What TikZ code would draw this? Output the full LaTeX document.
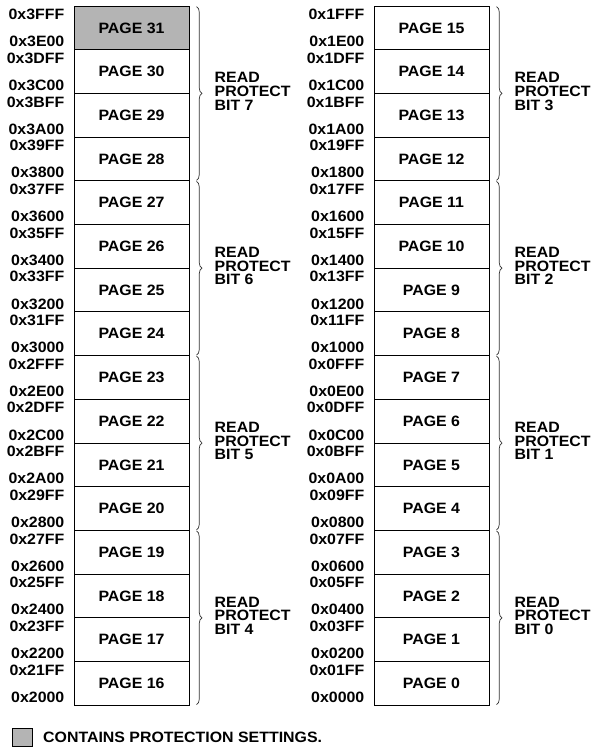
\documentclass[tikz,border=0pt]{standalone}
\usepackage{fontspec}
\setmainfont[FakeStretch=1.06]{Liberation Sans}
\usetikzlibrary{decorations.pathreplacing,positioning}
\definecolor{protgray}{RGB}{180,180,180}

\tikzset{
  pagebox/.style={draw,line width=1pt,minimum width=115pt,minimum height=43.7pt,
    inner sep=0pt,font=\fontsize{15}{16}\selectfont\bfseries},
  addr/.style={anchor=east,inner sep=0pt,font=\fontsize{15}{16}\selectfont\bfseries},
  rpbrace/.style={decorate,decoration={brace,amplitude=5.5pt},line width=0.7pt,draw=black!80},
  rplabel/.style={anchor=west,align=left,inner sep=0pt,
    font=\fontsize{15}{13.6}\selectfont\bfseries}
}

\begin{document}
\begin{tikzpicture}[x=1pt,y=-1pt]
  \useasboundingbox (0,0) rectangle (597,748);
  % left column, pages 31..16
  \foreach \r/\p/\hi/\lo in {0/31/3FFF/3E00,1/30/3DFF/3C00,2/29/3BFF/3A00,3/28/39FF/3800,
      4/27/37FF/3600,5/26/35FF/3400,6/25/33FF/3200,7/24/31FF/3000,
      8/23/2FFF/2E00,9/22/2DFF/2C00,10/21/2BFF/2A00,11/20/29FF/2800,
      12/19/27FF/2600,13/18/25FF/2400,14/17/23FF/2200,15/16/21FF/2000}{%
    \ifnum\p=31 \def\fc{protgray}\else\def\fc{white}\fi
    \node[pagebox,fill=\fc] (pg\p) at (131.5,{6+43.7*(\r+0.5)}) {PAGE \p};
    \node[addr] (hi\p) at ([xshift=-9pt,yshift=-9pt]pg\p.north west) {0x\hi};
    \node[addr] (lo\p) at ([xshift=-9pt,yshift=8.5pt]pg\p.south west) {0x\lo};
  }
  % right column, pages 15..0
  \foreach \r/\p/\hi/\lo in {0/15/1FFF/1E00,1/14/1DFF/1C00,2/13/1BFF/1A00,3/12/19FF/1800,
      4/11/17FF/1600,5/10/15FF/1400,6/9/13FF/1200,7/8/11FF/1000,
      8/7/0FFF/0E00,9/6/0DFF/0C00,10/5/0BFF/0A00,11/4/09FF/0800,
      12/3/07FF/0600,13/2/05FF/0400,14/1/03FF/0200,15/0/01FF/0000}{%
    \node[pagebox,fill=white] (pg\p) at (431.5,{6+43.7*(\r+0.5)}) {PAGE \p};
    \node[addr] (hi\p) at ([xshift=-9pt,yshift=-9pt]pg\p.north west) {0x\hi};
    \node[addr] (lo\p) at ([xshift=-9pt,yshift=8.5pt]pg\p.south west) {0x\lo};
  }
  % read protect braces, four pages each
  \foreach \top/\mid/\bot/\b in {31/30/28/7,27/26/24/6,23/22/20/5,19/18/16/4,
      15/14/12/3,11/10/8/2,7/6/4/1,3/2/0/0}{%
    \draw[rpbrace] ([xshift=7pt,yshift=-1pt]pg\top.north east)
      -- ([xshift=7pt,yshift=1pt]pg\bot.south east);
    \node[rplabel] (rp\b) at ([xshift=25pt,yshift=2.5pt]pg\mid.south east)
      {READ\\PROTECT\\BIT \b};
  }
  % legend
  \node[draw,line width=1pt,fill=protgray,minimum width=20pt,minimum height=18pt,
    inner sep=0pt] (legbox) at (22.5,737) {};
  \node[addr,anchor=west,right=10pt of legbox] (legtext) {CONTAINS PROTECTION SETTINGS.};
\end{tikzpicture}
\end{document}
